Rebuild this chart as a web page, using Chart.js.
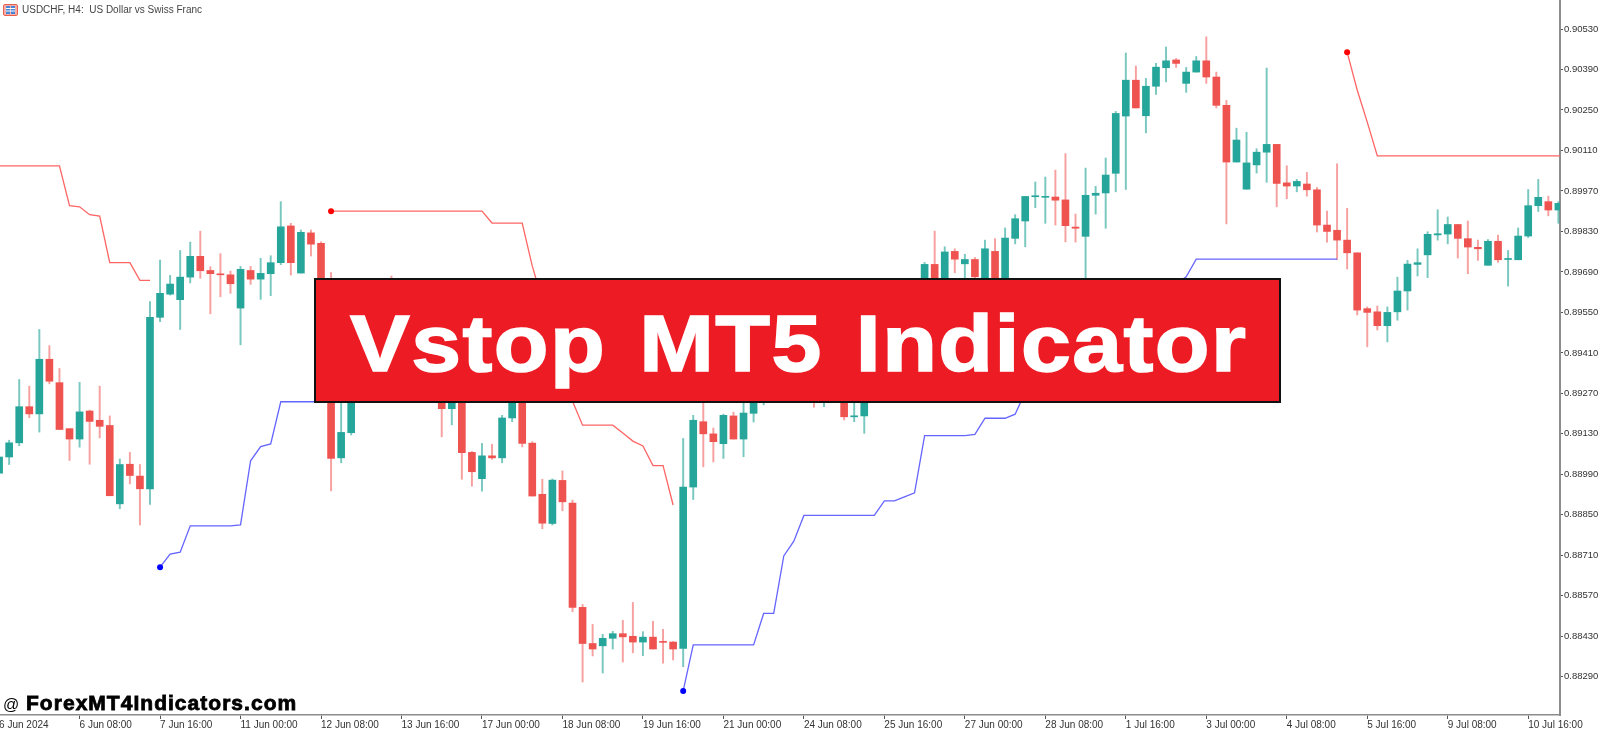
<!DOCTYPE html>
<html><head><meta charset="utf-8">
<script src="https://cdn.jsdelivr.net/npm/chart.js@4"></script>
<style>
html,body{margin:0;padding:0;background:#fff;width:1600px;height:730px;overflow:hidden}
#wrap{position:relative;width:1600px;height:730px}
canvas{position:absolute;left:0;top:0}
#head{position:absolute;left:22px;top:4px;font:10px "Liberation Sans",sans-serif;color:#444;white-space:pre}
#icon{position:absolute;left:3px;top:4px}
#banner{position:absolute;left:314px;top:278px;width:967px;height:125px;box-sizing:border-box;border:2px solid #111;background:#ed1c24;color:#fff;font:bold 80px "Liberation Sans",sans-serif;text-align:center;line-height:128px;padding-left:2px;letter-spacing:1.3px;word-spacing:6px;white-space:nowrap;-webkit-text-stroke:1.5px #fff}
#banner span{display:inline-block;transform:scaleX(1.12);transform-origin:center}
#mark{position:absolute;left:3px;top:691px;font:bold 21px "Liberation Sans",sans-serif;color:#000;letter-spacing:1.03px;white-space:nowrap;-webkit-text-stroke:.8px #000}
#mark span{display:inline-block;width:23px;font-size:16px;letter-spacing:0;font-weight:normal;-webkit-text-stroke:0}
</style></head>
<body><div id="wrap">
<canvas id="c" width="1600" height="730"></canvas>
<svg id="icon" width="15" height="12"><rect x=".5" y=".5" width="14" height="11" rx="1.5" fill="#f7b0a8" stroke="#e8604c"/><rect x="3" y="2" width="4" height="8" fill="#4a86d8"/><rect x="8" y="2" width="4" height="8" fill="#4a86d8"/><path d="M3 4.5h9M3 7h9" stroke="#fff"/></svg>
<div id="head">USDCHF, H4:  US Dollar vs Swiss Franc</div>
<div id="banner"><span>Vstop MT5 Indicator</span></div>
<div id="mark"><span>@</span>ForexMT4Indicators.com</div>
</div>
<script>
const n = null;
const openPts = [
88994,89050,89099,89224,89199,89388,89307,89148,89112,89209,
89177,89159,88888,89025,88984,88940,89533,89613,89594,89672,
89744,89695,89683,89680,89565,89695,89665,89684,89722,89849,
89686,89825,89789,89489,89047,89134,n,n,n,89593,
n,n,n,n,89281,89217,89316,89066,88975,89054,
89047,89185,89299,89098,88921,88820,88969,88891,88530,88405,
88397,88423,88439,88430,88410,88427,88412,88410,88388,88946,
89172,89130,89096,89192,89112,89201,89264,n,n,n,
n,89299,89264,n,89264,89189,89192,n,n,n,
n,n,89627,89716,89627,89761,89718,89733,89644,89761,
89644,89806,89866,89950,89948,89949,89939,89845,89813,89955,
89963,90031,90229,90353,90230,90332,90396,90423,90342,90381,
90420,90364,90266,90070,89976,90060,90104,90131,89998,89987,
89994,89974,89852,89834,89800,89756,89563,89552,89504,89552,
89624,89716,89749,89818,89821,89854,89805,89775,89713,89796,
89733,89732,89814,89919,89933,89904];
const highPts = [
89057,89108,89318,89295,89491,89435,89356,89148,89308,89212,
89295,89192,89043,89066,89024,89587,89731,89678,89764,89793,
89831,89708,89753,89693,89709,89709,89737,89746,89933,89858,
89835,89835,89794,89688,89316,89420,n,n,n,89676,
n,n,n,n,89299,89299,89333,89069,89097,89094,
89194,89299,89316,89103,88973,88974,89002,88901,88540,88471,
88437,88447,88485,88547,88446,88482,88454,88412,89114,89194,
89281,89150,89198,89205,89281,89299,89333,n,n,n,
n,89316,89316,n,89281,89264,89281,n,n,n,
n,n,89723,89831,89777,89770,89751,89740,89800,89805,
89842,89888,89951,90001,90018,90042,90099,89890,90049,89986,
90084,90245,90447,90402,90359,90411,90468,90428,90397,90435,
90503,90381,90283,90187,90173,90116,90395,90131,90057,90010,
90034,89982,89900,90064,89910,89756,89569,89572,89569,89672,
89730,89770,89829,89905,89880,89854,89866,89800,89802,89817,
89764,89842,89975,90010,89952,89933];
const lowPts = [
88987,89024,89089,89186,89136,89303,89145,89038,89084,89025,
89116,88916,88871,88957,88815,88886,89518,89610,89491,89652,
89668,89545,89604,89616,89438,89647,89595,89608,89715,89679,
89686,89745,89420,88933,89030,89126,n,n,n,89489,
n,n,n,n,89120,89161,88973,88949,88932,89042,
89030,89172,89085,88915,88802,88815,88864,88515,88272,88362,
88303,88386,88341,88373,88363,88386,88337,88348,88325,88903,
89016,89033,89045,89112,89051,89171,89230,n,n,n,
n,89222,89224,n,89178,89172,89132,n,n,n,
n,n,89610,89610,89610,89687,89627,89644,89610,89610,
89627,89787,89777,89912,89858,89852,89794,89793,89627,89890,
89841,89967,89975,90257,90171,90304,90347,90397,90311,90381,
90342,90257,89856,90070,89976,90032,90000,89915,89943,89967,
89952,89828,89793,89733,89700,89541,89431,89489,89448,89523,
89558,89676,89670,89800,89787,89738,89684,89730,89713,89723,
89641,89732,89809,89899,89884,89858];
const closePts = [
89050,89099,89224,89199,89388,89312,89145,89112,89206,89173,
89156,88916,89024,88986,88940,89533,89616,89648,89672,89744,
89694,89684,89680,89649,89699,89665,89685,89722,89846,89722,
89827,89786,89489,89045,89135,89351,n,n,n,89558,
n,n,n,n,89217,89281,89065,88999,89054,89047,
89185,89281,89097,88915,88821,88970,88895,88530,88405,88386,
88423,88439,88428,88410,88427,88386,88409,88386,88946,89177,
89130,89103,89194,89112,89202,89274,89316,n,n,n,
n,89264,89299,n,89189,89192,89264,n,n,n,
n,n,89716,89627,89759,89734,89733,89673,89770,89644,
89807,89874,89951,89953,89951,89938,89850,89841,89955,89962,
90025,90238,90353,90257,90332,90398,90420,90411,90381,90420,
90364,90266,90070,90146,90067,90104,90131,89996,89987,90003,
89974,89852,89830,89800,89756,89558,89550,89504,89550,89624,
89717,89722,89820,89822,89854,89806,89776,89770,89796,89732,
89735,89814,89919,89948,89904,89927];

const redStop1Start = 0;
const redStop1 = [90057,90057,90057,90057,90057,90057,90057,89919,89915,89888,89883,89722,89722,89722,89661,89661];
const blueStop1Start = 16;
const blueStop1 = [88669,88714,88721,88812,88812,88812,88812,88812,88815,89037,89086,89095,89241,89241,89241,89241,89241];
const redStop2Start = 33;
const redStop2 = [89900,89900,89900,89900,89900,89900,89900,89900,89900,89900,89900,89900,89900,89900,89900,89900,89859,89859,89859,89859,89710,89593,89454,89351,89243,89160,89160,89160,89160,89133,89105,89088,89020,89020,88884];
const blueStop2Start = 68;
const blueStop2 = [88241,88400,88400,88400,88400,88400,88400,88400,88509,88509,88708,88759,88848,88848,88848,88848,88848,88848,88848,88848,88898,88898,88912,88926,89124,89124,89124,89124,89124,89128,89184,89184,89184,89198,89275,n,n,n,n,n,n,n,n,n,n,n,n,n,n,n,89673,89734,89734,89734,89734,89734,89734,89734,89734,89734,89734,89734,89734,89734,89734,89734];
const redStop3Start = 134;
const redStop3 = [90450,90319,90208,90091,90091,90091,90091,90091,90091,90091,90091,90091,90091,90091,90091,90091,90091,90091,90091,90091,90091,90091,90091];

const priceTicks = [0.90530,0.90390,0.90250,0.90110,0.89970,0.89830,0.89690,0.89550,0.89410,0.89270,0.89130,0.88990,0.88850,0.88710,0.88570,0.88430,0.88290];
const timeTickIndex = [0,8,16,24,32,40,48,56,64,72,80,88,96,104,112,120,128,136,144,152];
const timeTickLabels = ["6 Jun 2024","6 Jun 08:00","7 Jun 16:00","11 Jun 00:00","12 Jun 08:00","13 Jun 16:00","17 Jun 00:00","18 Jun 08:00","19 Jun 16:00","21 Jun 00:00","24 Jun 08:00","25 Jun 16:00","27 Jun 00:00","28 Jun 08:00","1 Jul 16:00","3 Jul 00:00","4 Jul 08:00","5 Jul 16:00","9 Jul 08:00","10 Jul 16:00"];

const UP='#26a69a', DOWN='#ef5350', UPW='rgba(38,166,154,.62)', DOWNW='rgba(239,83,80,.55)';
const P = v => v==null ? null : v/100000;
const bodies=[], wicks=[], bodyCol=[], wickCol=[];
openPts.forEach((o,i)=>{
  if(o==null) return;
  const up = closePts[i]>=o;
  bodies.push({x:i,y:[P(o),P(closePts[i])]});
  wicks.push({x:i,y:[P(lowPts[i]),P(highPts[i])]});
  bodyCol.push(up?UP:DOWN); wickCol.push(up?UPW:DOWNW);
});
const stop=(arr,start,col,dot)=>({type:'line',order:0,data:arr.map((v,i)=>({x:start+i,y:P(v)})),
  borderColor:col,borderWidth:1.3,tension:0,spanGaps:true,
  pointRadius:c=>(dot&&c.dataIndex===0)?3:0,pointBackgroundColor:dot||col,pointBorderWidth:0});
const noPad = s=>{s.paddingLeft=0;s.paddingRight=0;s.paddingTop=0;s.paddingBottom=0;};

new Chart(document.getElementById('c'),{
  type:'bar',
  data:{datasets:[
    stop(redStop1,redStop1Start,'#ff6464',null),
    stop(blueStop1,blueStop1Start,'#6464ff','#0000ff'),
    stop(redStop2,redStop2Start,'#ff6464','#ff0000'),
    stop(blueStop2,blueStop2Start,'#6464ff','#0000ff'),
    stop(redStop3,redStop3Start,'#ff6464','#ff0000'),
    {order:1,data:bodies,backgroundColor:bodyCol,barThickness:7,minBarLength:1},
    {order:2,data:wicks,backgroundColor:wickCol,barThickness:1.3}
  ]},
  options:{
    responsive:false,animation:false,devicePixelRatio:1,
    layout:{padding:0,autoPadding:false},
    datasets:{bar:{grouped:false}},
    plugins:{legend:{display:false},tooltip:{enabled:false},title:{display:false}},
    scales:{
      x:{type:'linear',offset:false,min:0.09,max:155.16,
        grid:{offset:false,drawOnChartArea:false,color:'#555',tickLength:4},
        border:{color:'#8c8c8c',width:1.5},
        afterBuildTicks:s=>{s.ticks=timeTickIndex.map(v=>({value:v}));},
        afterFit:s=>{s.height=15;noPad(s);},
        ticks:{autoSkip:false,maxRotation:0,minRotation:0,align:'start',padding:0,color:'#333',
          font:{family:'"Liberation Sans"',size:10},
          callback:(v)=>timeTickLabels[timeTickIndex.indexOf(v)]}},
      y:{type:'linear',position:'right',min:0.881578,max:0.906303,
        grid:{drawOnChartArea:false,color:'#555',tickLength:3},
        border:{color:'#8c8c8c',width:2},
        afterBuildTicks:s=>{s.ticks=priceTicks.map(v=>({value:v}));},
        afterFit:s=>{s.width=40;noPad(s);},
        ticks:{padding:1,color:'#333',font:{family:'"Liberation Sans"',size:9.5},
          callback:v=>v.toFixed(5)}}
    }
  }
});
</script>
</body></html>
